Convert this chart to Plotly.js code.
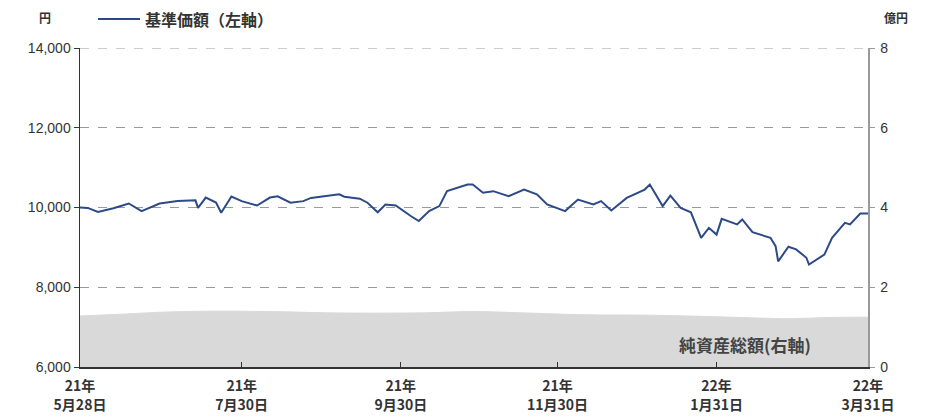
<!DOCTYPE html>
<html>
<head>
<meta charset="utf-8">
<script src="https://cdn.plot.ly/plotly-3.0.1.min.js"></script>
<style>html,body{margin:0;padding:0;background:#fff;}#chart{width:927px;height:416px;}</style>
</head>
<body>
<div id="chart"></div>
<script>
// 基準価額（左軸, 円）
const navDates = ["2021-05-28","2021-05-31","2021-06-04","2021-06-10","2021-06-16","2021-06-21","2021-06-28","2021-07-05","2021-07-12","2021-07-13","2021-07-16","2021-07-20","2021-07-22","2021-07-26","2021-07-30","2021-08-05","2021-08-10","2021-08-13","2021-08-18","2021-08-23","2021-08-26","2021-09-06","2021-09-08","2021-09-14","2021-09-17","2021-09-21","2021-09-24","2021-09-28","2021-10-04","2021-10-07","2021-10-11","2021-10-15","2021-10-18","2021-10-22","2021-10-26","2021-10-28","2021-11-01","2021-11-05","2021-11-11","2021-11-17","2021-11-22","2021-11-26","2021-12-03","2021-12-08","2021-12-14","2021-12-17","2021-12-21","2021-12-27","2022-01-03","2022-01-05","2022-01-07","2022-01-10","2022-01-13","2022-01-17","2022-01-21","2022-01-25","2022-01-28","2022-01-31","2022-02-02","2022-02-08","2022-02-10","2022-02-14","2022-02-21","2022-02-23","2022-02-24","2022-02-28","2022-03-03","2022-03-07","2022-03-08","2022-03-14","2022-03-17","2022-03-22","2022-03-24","2022-03-28","2022-03-31"];
const navValues = [10000,9990,9890,9980,10100,9910,10100,10160,10180,9990,10250,10125,9870,10275,10160,10050,10250,10280,10120,10160,10240,10330,10270,10220,10120,9880,10075,10050,9780,9660,9910,10035,10410,10490,10575,10575,10370,10410,10285,10450,10330,10075,9910,10200,10075,10160,9925,10240,10450,10575,10370,10035,10300,9990,9880,9240,9490,9320,9715,9575,9700,9380,9240,9030,8650,9015,8950,8740,8570,8820,9240,9615,9575,9850,9850];

// 純資産総額（右軸, 億円）
const aumDates = ["2021-05-28","2021-06-15","2021-07-01","2021-07-20","2021-08-10","2021-09-01","2021-09-20","2021-10-10","2021-10-28","2021-11-20","2021-12-10","2022-01-05","2022-01-25","2022-02-15","2022-03-01","2022-03-15","2022-03-31"];
const aumValues = [1.28,1.33,1.38,1.40,1.39,1.36,1.35,1.36,1.39,1.35,1.31,1.30,1.27,1.23,1.21,1.24,1.25];

const tickDates = ["2021-05-28","2021-07-30","2021-09-30","2021-11-30","2022-01-31","2022-03-31"];
const tickLabels = ["21年<br>5月28日","21年<br>7月30日","21年<br>9月30日","21年<br>11月30日","22年<br>1月31日","22年<br>3月31日"];

const seriesName = '基準価額（左軸）';
const areaName = '純資産総額(右軸)';

const FONT = '"Noto Sans CJK JP", "Liberation Sans", sans-serif';
const NUMFONT = '"Liberation Sans", Arial, sans-serif';

// plot area pixel geometry (for manual legend placement)
const L = 80, R = 59, T = 48, B = 49, W = 927, H = 416;
const pw = W - L - R, ph = H - T - B;
const px = v => (v - L) / pw;
const py = v => (H - B - v) / ph;

const traces = [
  {x: aumDates, y: aumValues, yaxis: 'y2', type: 'scatter', mode: 'lines',
   fill: 'tozeroy', fillcolor: '#d9d9d9', line: {color: '#d9d9d9', width: 1, shape: 'spline'},
   showlegend: false, hoverinfo: 'skip', name: areaName},
  {x: navDates, y: navValues, type: 'scatter', mode: 'lines', name: seriesName,
   line: {color: '#2c4a88', width: 2}, showlegend: false}
];

const layout = {
  width: W, height: H,
  margin: {l: L, r: R, t: T, b: B},
  paper_bgcolor: '#fff', plot_bgcolor: '#fff',
  font: {family: FONT, size: 13, color: '#333'},
  showlegend: false,
  xaxis: {
    type: 'date', range: ['2021-05-28', '2022-03-31'],
    tickmode: 'array', tickvals: tickDates, ticktext: tickLabels,
    ticks: 'inside', ticklen: 5, tickcolor: '#333',
    showline: true, linecolor: '#333', linewidth: 1.5,
    showgrid: false, zeroline: false, ticklabelstandoff: 6,
    tickfont: {family: FONT, size: 14, color: '#333', weight: 'bold'}
  },
  yaxis: {
    range: [6000, 14000], dtick: 2000, tick0: 6000, tickformat: ',d',
    ticks: 'outside', ticklen: 5, tickcolor: '#333',
    showline: true, linecolor: '#333', linewidth: 1.5,
    showgrid: true, gridcolor: '#9a9a9a', griddash: 'dash', gridwidth: 1,
    zeroline: false,
    tickfont: {family: NUMFONT, size: 14, color: '#333'}
  },
  yaxis2: {
    overlaying: 'y', side: 'right', range: [0, 8], dtick: 2, tick0: 0,
    ticks: 'outside', ticklen: 5, tickcolor: '#999',
    showline: true, linecolor: '#999', linewidth: 1.5,
    showgrid: false, zeroline: false, ticklabelstandoff: 3,
    tickfont: {family: NUMFONT, size: 14, color: '#333'}
  },
  shapes: [
    {type: 'line', xref: 'paper', yref: 'y', x0: 0, x1: 1, y0: 14000, y1: 14000,
     line: {color: '#9a9a9a', width: 1, dash: 'dash'}},
    {type: 'line', xref: 'paper', yref: 'paper', x0: px(98), x1: px(140), y0: py(19), y1: py(19),
     line: {color: '#2c4a88', width: 2}}
  ],
  annotations: [
    {xref: 'paper', yref: 'paper', x: px(143), y: py(19), xanchor: 'left', yanchor: 'middle',
     text: seriesName, showarrow: false, font: {family: FONT, size: 16, color: '#333', weight: 'bold'}},
    {xref: 'paper', yref: 'paper', x: px(45), y: py(18), xanchor: 'center', yanchor: 'middle',
     text: '円', showarrow: false, font: {family: FONT, size: 12, color: '#333', weight: 'bold'}},
    {xref: 'paper', yref: 'paper', x: px(896), y: py(18), xanchor: 'center', yanchor: 'middle',
     text: '億円', showarrow: false, font: {family: FONT, size: 12, color: '#333', weight: 'bold'}},
    {xref: 'paper', yref: 'paper', x: px(745), y: py(344), xanchor: 'center', yanchor: 'middle',
     text: areaName, showarrow: false, font: {family: FONT, size: 17, color: '#444', weight: 'bold'}}
  ]
};

Plotly.newPlot('chart', traces, layout, {displayModeBar: false, staticPlot: true});
</script>
</body>
</html>
